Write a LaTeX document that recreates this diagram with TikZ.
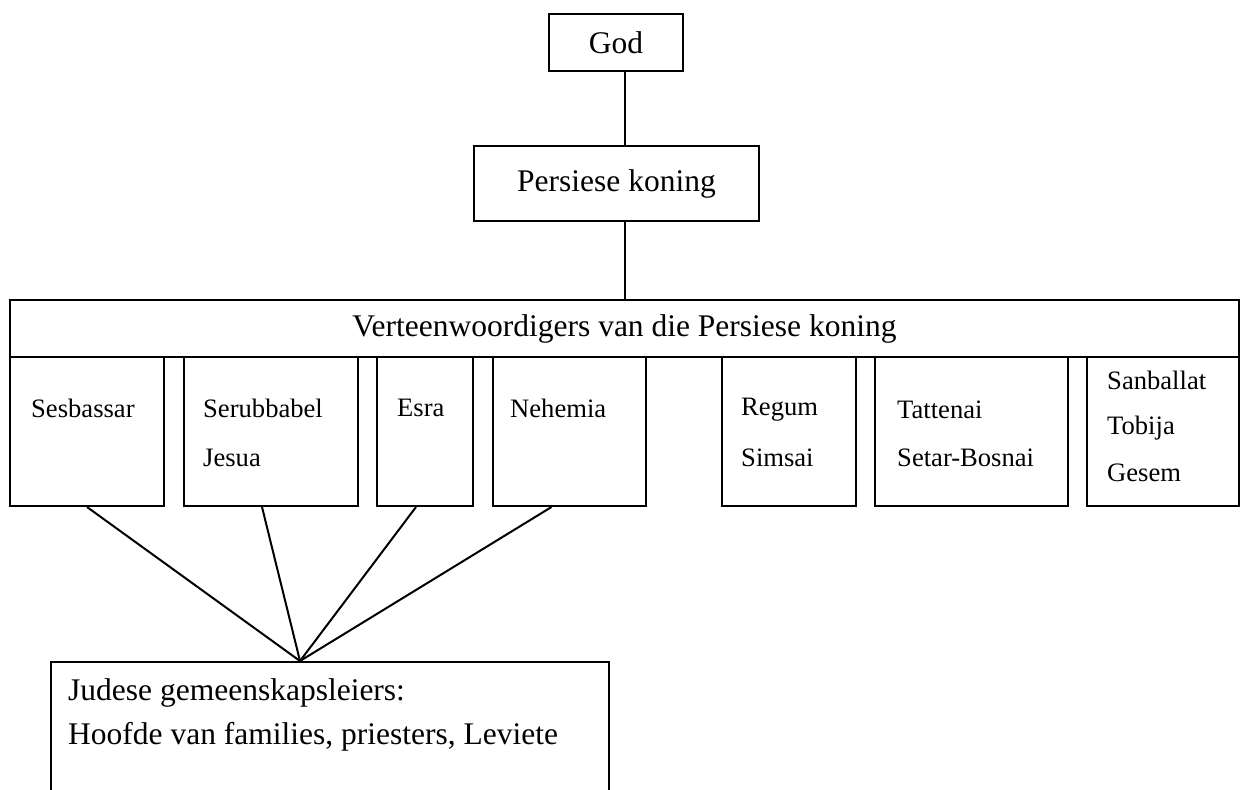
\documentclass[tikz,border=0pt]{standalone}
\usepackage{fontspec}
\setmainfont{Liberation Serif}
\begin{document}
\begin{tikzpicture}[
    x=1pt, y=-1pt,
    box/.style={draw, line width=2pt, inner sep=0pt, anchor=north west},
    big/.style={font=\fontsize{31.5}{36}\selectfont},
    person/.style={font=\fontsize{26.6}{30}\selectfont, anchor=west, inner sep=0pt},
    link/.style={line width=2pt}
]
    \useasboundingbox (0,0) rectangle (1241,789);
    \clip (0,0) rectangle (1241,789);

    % Top of the chain
    \node[box, big, minimum width=134pt, minimum height=57pt] (god) at (548,13) {God};
    \node[box, big, minimum width=285pt, minimum height=75pt] (king) at (473,145) {Persiese koning};
    \node[box, big, minimum width=1229pt, minimum height=57pt] (rep) at (9,299) {Verteenwoordigers van die Persiese koning};
    \coordinate (axis) at (625,0);
    \draw[link] (god.south -| axis) -- (king.north -| axis);
    \draw[link] (king.south -| axis) -- (rep.north -| axis);

    % Representatives
    \foreach \n/\xa/\xb in {ses/9/163, ser/183/357, esra/376/472, neh/492/645, reg/721/855, tat/874/1067, san/1086/1238}
        \node[box, minimum width={(\xb-\xa)*1pt}, minimum height=149pt] (\n) at (\xa,356) {};
    \node[person] (sesA) at (31,408) {Sesbassar};
    \node[person] (serA) at (203,408) {Serubbabel};
    \node[person] (serB) at (203,458) {Jesua};
    \node[person] (esraA) at (397,408) {Esra};
    \node[person] (nehA) at (510,408) {Nehemia};
    \node[person] (regA) at (741,410) {Regum};
    \node[person] (regB) at (741,458) {Simsai};
    \node[person] (tatA) at (897,410) {Tattenai};
    \node[person] (tatB) at (897,458) {Setar-Bosnai};
    \node[person] (sanA) at (1107,380) {Sanballat};
    \node[person] (sanB) at (1107,428) {Tobija};
    \node[person] (sanC) at (1107,473) {Gesem};

    % Jewish leaders
    \node[box, minimum width=558pt, minimum height=160pt] (jud) at (50,661) {};
    \node[person, big] (judA) at (68,693) {Judese gemeenskapsleiers:};
    \node[person, big] (judB) at (68,737) {Hoofde van families, priesters, Leviete};
    \coordinate (meet) at (300,661);
    \draw[link] (ses.south) -- (meet);
    \draw[link] ([xshift=-9pt]ser.south) -- (meet);
    \draw[link] ([xshift=-9pt]esra.south) -- (meet);
    \draw[link] ([xshift=-18pt]neh.south) -- (meet);
\end{tikzpicture}
\end{document}
